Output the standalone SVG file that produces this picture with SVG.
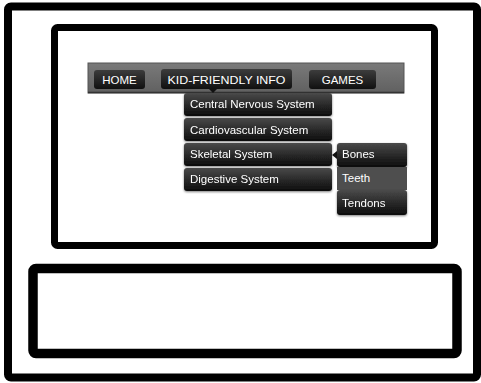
<svg xmlns="http://www.w3.org/2000/svg" width="481" height="383" viewBox="0 0 481 383">
<defs>
<linearGradient id="btn" x1="0" y1="0" x2="0" y2="1">
<stop offset="0" stop-color="#3c3c3c"/><stop offset="1" stop-color="#101010"/>
</linearGradient>
<linearGradient id="item" x1="0" y1="0" x2="0" y2="1">
<stop offset="0" stop-color="#4a4a4a"/><stop offset="0.5" stop-color="#2a2a2a"/><stop offset="1" stop-color="#0c0c0c"/>
</linearGradient>
<linearGradient id="bar" x1="0" y1="0" x2="0" y2="1">
<stop offset="0" stop-color="#7a7a7a"/><stop offset="1" stop-color="#606060"/>
</linearGradient>
<filter id="sh" x="-10%" y="-20%" width="120%" height="150%">
<feDropShadow dx="0" dy="1" stdDeviation="0.8" flood-color="#000" flood-opacity="0.5"/>
</filter>
</defs>
<style>
.frame{fill:none;stroke:#000;stroke-linejoin:round}
.t{font-family:"Liberation Sans",Arial,sans-serif;font-size:11.5px;fill:#fff}
.c{text-anchor:middle}
</style>
<rect width="481" height="383" fill="#fff"/>
<g id="outer-frame"><rect class="frame" x="8" y="6.5" width="469" height="371" rx="3" stroke-width="8"/></g>
<g id="content-frame"><rect class="frame" x="54.5" y="27.5" width="380" height="218" rx="3" stroke-width="7"/></g>
<g id="footer-frame"><rect class="frame" x="33" y="268.5" width="424" height="85" rx="3" stroke-width="9.5"/></g>
<g id="navbar">
<rect x="88" y="63" width="316" height="30" fill="url(#bar)" stroke="#555" stroke-width="1"/>
<line x1="88" y1="92.5" x2="404" y2="92.5" stroke="#333" stroke-width="1.5"/>
</g>
<g id="home"><rect x="94" y="70" width="51" height="19" rx="3" fill="url(#btn)"/><text class="t c" x="119.5" y="84">HOME</text></g>
<g id="kid-friendly-info"><rect x="161" y="69" width="131" height="20" rx="3" fill="url(#btn)"/><text class="t c" x="226.5" y="84" textLength="118" lengthAdjust="spacingAndGlyphs">KID-FRIENDLY INFO</text></g>
<g id="games"><rect x="309" y="70" width="67" height="19" rx="3" fill="url(#btn)"/><text class="t c" x="342.5" y="84">GAMES</text></g>
<g id="central-nervous-system" filter="url(#sh)"><rect x="184" y="93" width="148" height="23" rx="3" fill="url(#item)"/><text class="t" x="190" y="108">Central Nervous System</text></g>
<g id="cardiovascular-system" filter="url(#sh)"><rect x="184" y="118" width="148" height="23" rx="3" fill="url(#item)"/><text class="t" x="190" y="133.5">Cardiovascular System</text></g>
<g id="skeletal-system" filter="url(#sh)"><rect x="184" y="143" width="148" height="23" rx="3" fill="url(#item)"/><text class="t" x="190" y="158">Skeletal System</text></g>
<g id="digestive-system" filter="url(#sh)"><rect x="184" y="168" width="148" height="23" rx="3" fill="url(#item)"/><text class="t" x="190" y="183">Digestive System</text></g>
<g id="bones" filter="url(#sh)"><rect x="337" y="143" width="70" height="24" rx="3" fill="url(#item)"/><text class="t" x="342" y="158">Bones</text></g>
<g id="teeth"><rect x="337" y="167" width="70" height="23" fill="#4e4e4e"/><text class="t" x="342" y="181.5">Teeth</text></g>
<g id="tendons" filter="url(#sh)"><rect x="337" y="190" width="70" height="25" rx="3" fill="url(#item)"/><text class="t" x="342" y="206.5">Tendons</text></g>
<g id="connectors" fill="#111">
<polygon points="209,89 217,89 213,93"/>
<polygon points="337,151 337,159 332,155"/>
</g>
</svg>
